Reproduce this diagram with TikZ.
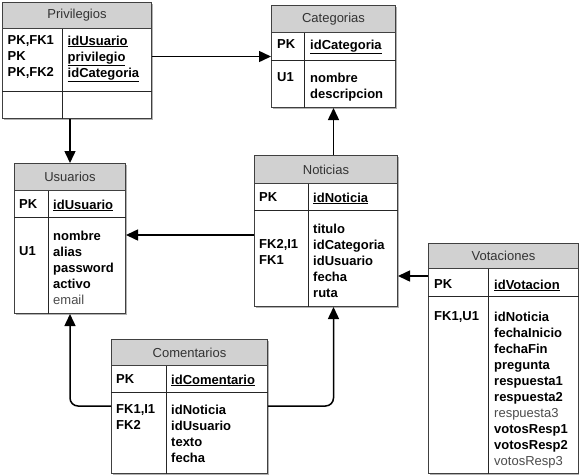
\documentclass[tikz,border=0pt]{standalone}
\usepackage{fontspec}
\setmainfont{Liberation Sans}
\usetikzlibrary{arrows.meta,positioning,shadows}

\newcommand{\opcional}[1]{{\mdseries\color{black!70}#1}}

\begin{document}
\begin{tikzpicture}[x=1pt, y=-1pt,
  flecha/.style={-{Triangle[length=12pt,width=11pt]}, line width=1.5pt},
  tabla/.style={rectangle, draw=black!75, line width=1pt, fill=white, inner sep=0pt, anchor=north west, drop shadow={shadow xshift=1.5pt, shadow yshift=-1.5pt, fill=black!30, opacity=1}},
  cabecera/.style={rectangle, draw=black!75, line width=1pt, fill=black!18, inner sep=0pt, anchor=north west, text=black!80, font=\fontsize{13}{16}\selectfont},
  texto/.style={inner sep=0pt, anchor=north west, align=left, font=\fontsize{13}{16}\selectfont\bfseries},
  sep/.style={line width=1pt, black!85}]
\useasboundingbox (0,0) rectangle (579,475);

% Privilegios
\node[tabla, minimum width=149pt, minimum height=116pt] (priv) at (2,2) {};
\node[cabecera, minimum width=149pt, minimum height=26pt] (priv-h) at (priv.north west) {Privilegios};
\draw[sep] (priv.west |- 0,91) -- (priv.east |- 0,91);
\draw[sep] (priv-h.south -| 62,0) -- (priv.south -| 62,0);
\node[texto] (priv-k) at (7.5,35.5) {PK,FK1\\PK\\PK,FK2};
\node[texto] (priv-c) at (67.5,35.5) {\underline{idUsuario}\\\underline{privilegio}\\\underline{idCategoria}};

% Categorias
\node[tabla, minimum width=124pt, minimum height=102pt] (cat) at (271,5) {};
\node[cabecera, minimum width=124pt, minimum height=27pt] (cat-h) at (cat.north west) {Categorias};
\draw[sep] (cat.west |- 0,60) -- (cat.east |- 0,60);
\draw[sep] (cat-h.south -| 304,0) -- (cat.south -| 304,0);
\node[texto] (cat-pk) at (277,39.5) {PK};
\node[texto] (cat-id) at (310,39.5) {\underline{idCategoria}};
\node[texto] (cat-k) at (277,72.5) {U1};
\node[texto] (cat-c) at (310,72.5) {nombre\\descripcion};

% Usuarios
\node[tabla, minimum width=111pt, minimum height=150pt] (usu) at (14,163) {};
\node[cabecera, minimum width=111pt, minimum height=27pt] (usu-h) at (usu.north west) {Usuarios};
\draw[sep] (usu.west |- 0,217) -- (usu.east |- 0,217);
\draw[sep] (usu-h.south -| 48,0) -- (usu.south -| 48,0);
\node[texto] (usu-pk) at (19,199.5) {PK};
\node[texto] (usu-id) at (53,199.5) {\underline{idUsuario}};
\node[texto] (usu-k) at (19,246.5) {U1};
\node[texto] (usu-c) at (53,230.5) {nombre\\alias\\password\\activo\\\opcional{email}};

% Noticias
\node[tabla, minimum width=143pt, minimum height=151pt] (noti) at (254,155) {};
\node[cabecera, minimum width=143pt, minimum height=28pt] (noti-h) at (noti.north west) {Noticias};
\draw[sep] (noti.west |- 0,210) -- (noti.east |- 0,210);
\draw[sep] (noti-h.south -| 308,0) -- (noti.south -| 308,0);
\node[texto] (noti-pk) at (259,192.5) {PK};
\node[texto] (noti-id) at (313,192.5) {\underline{idNoticia}};
\node[texto] (noti-k) at (259,239.5) {FK2,I1\\FK1};
\node[texto] (noti-c) at (313,223.5) {titulo\\idCategoria\\idUsuario\\fecha\\ruta};

% Votaciones
\node[tabla, minimum width=150pt, minimum height=230pt] (vot) at (428,243) {};
\node[cabecera, minimum width=150pt, minimum height=25pt] (vot-h) at (vot.north west) {Votaciones};
\draw[sep] (vot.west |- 0,296) -- (vot.east |- 0,296);
\draw[sep] (vot-h.south -| 488,0) -- (vot.south -| 488,0);
\node[texto] (vot-pk) at (434,279.5) {PK};
\node[texto] (vot-id) at (494,279.5) {\underline{idVotacion}};
\node[texto] (vot-k) at (434,311.5) {FK1,U1};
\node[texto] (vot-c) at (494,311.5) {idNoticia\\fechaInicio\\fechaFin\\pregunta\\respuesta1\\respuesta2\\\opcional{respuesta3}\\votosResp1\\votosResp2\\\opcional{votosResp3}};

% Comentarios
\node[tabla, minimum width=156pt, minimum height=134pt] (com) at (111,339) {};
\node[cabecera, minimum width=156pt, minimum height=26pt] (com-h) at (com.north west) {Comentarios};
\draw[sep] (com.west |- 0,392) -- (com.east |- 0,392);
\draw[sep] (com-h.south -| 166,0) -- (com.south -| 166,0);
\node[texto] (com-pk) at (116,374.5) {PK};
\node[texto] (com-id) at (171,374.5) {\underline{idComentario}};
\node[texto] (com-k) at (116,404.5) {FK1,I1\\FK2};
\node[texto] (com-c) at (171,404.5) {idNoticia\\idUsuario\\texto\\fecha};

% relaciones
\draw[flecha] (priv.east |- cat.west) -- (cat.west);
\draw[flecha] (priv.south -| usu.north) -- (usu.north);
\draw[flecha] (noti.west |- 0,235) -- (usu.east |- 0,235);
\draw[flecha] (noti.north -| cat.south) -- (cat.south);
\draw[flecha] (vot.west |- 0,276) -- (noti.east |- 0,276);
\draw[flecha, rounded corners=8pt] (com.west |- 0,406) -| (usu.south);
\draw[flecha, rounded corners=8pt] (com.east |- 0,406) -| (noti.south -| cat.south);
\end{tikzpicture}
\end{document}
